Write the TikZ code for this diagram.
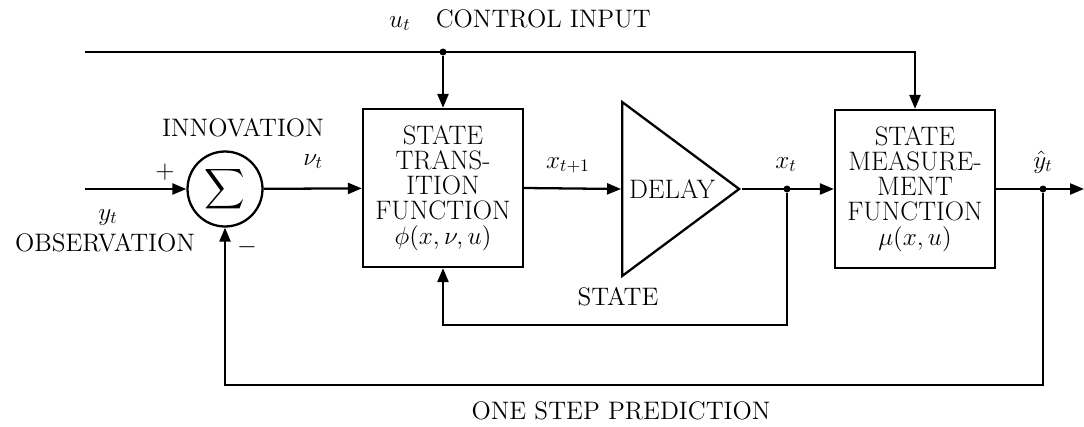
\documentclass[tikz,border=0pt]{standalone}
\usepackage{amsmath,amssymb}
\usetikzlibrary{arrows.meta,shapes.geometric,positioning}
\tikzset{
    % Base text style
    basetext/.style={
        font=\fontsize{14.4}{14.2}\selectfont,
        inner sep=0pt
    },
    % Function block style
    funcbox/.style={
        basetext,
        font=\fontsize{15.2}{14.2}\selectfont,
        draw,
        line width=1.3pt,
        minimum width=3.2cm,
        minimum height=3.16cm,
        align=center
    },
    % Summing junction
    sumnode/.style={
        draw,
        circle,
        line width=1.3pt,
        minimum size=1.5cm,
        inner sep=0pt,
        font=\fontsize{16}{16}\selectfont
    },
    % Delay triangle
    delaynode/.style={
        basetext,
        font=\fontsize{15.2}{14.2}\selectfont,
        draw,
        isosceles triangle,
        isosceles triangle stretches,
        line width=1.3pt,
        minimum width=3.48cm,
        minimum height=2.34cm
    },
    % Signal arrow
    myarrow/.style={
        -{Triangle[length=2.8mm,width=2.2mm]},
        line width=1.3pt
    },
    % Plain signal line
    myline/.style={
        line width=1.3pt
    },
    % Junction dot
    junction/.style={
        circle,
        fill,
        inner sep=0pt,
        minimum size=1.4mm
    },
    % Label
    lbl/.style={
        basetext
    }
}
\begin{document}
\begin{tikzpicture}[x=0.02cm, y=-0.02cm]
    \useasboundingbox (0,0) rectangle (1084,426);

    % blocks
    \node[sumnode] (sum) at (225,189) {$\displaystyle\sum$};
    \node[funcbox] (trans) at (443,188) {STATE\\TRANS-\\ITION\\FUNCTION\\$\phi(x,\nu,u)$};
    \node[delaynode] (delay) at (672,189) {DELAY};
    \node[funcbox] (meas) at (915,189) {STATE\\MEASURE-\\MENT\\FUNCTION\\$\mu(x,u)$};

    % signal points
    \coordinate (obs) at (85,189);
    \coordinate (ctl) at (85,52);
    \node[junction] (uj) at (443,52) {};
    \node[junction] (xj) at (787,189) {};
    \node[junction] (yj) at (1043,189) {};
    \coordinate (out) at (1084,189);

    % forward path
    \draw[myarrow] (obs) -- (sum);
    \draw[myarrow] (sum) -- (trans);
    \draw[myarrow] (trans.east) -- (delay.west);
    \draw[myarrow] (delay.apex) -- (meas);
    \draw[myarrow] (meas) -- (out);

    % control input
    \draw[myarrow] (ctl) -| (meas);
    \draw[myarrow] (uj) -- (trans);

    % feedback loops
    \draw[myarrow] (xj) -- ++(0,136) -| (trans);
    \draw[myarrow] (yj) -- ++(0,196) -| (sum);

    % labels
    \node[lbl] (ctllbl) at (520,20) {$u_t$\quad CONTROL INPUT};
    \node[lbl] (innov) at (243,128) {INNOVATION};
    \node[lbl, anchor=base] (nulbl) at (313,165) {$\nu_t$};
    \node[lbl] (plus) at (165,172) {$+$};
    \node[lbl] (minus) at (247,247) {$-$};
    \node[lbl, anchor=base] (ylbl) at (108,220) {$y_t$};
    \node[lbl] (obslbl) at (105,243) {OBSERVATION};
    \node[lbl, anchor=base] (x1lbl) at (568,168) {$x_{t+1}$};
    \node[lbl, anchor=base] (xlbl) at (786,168) {$x_t$};
    \node[lbl, anchor=base] (yhlbl) at (1043,168) {$\hat{y}_t$};
    \node[lbl] (statelbl) at (618,297) {STATE};
    \node[lbl] (predlbl) at (621,411) {ONE STEP PREDICTION};
\end{tikzpicture}
\end{document}
